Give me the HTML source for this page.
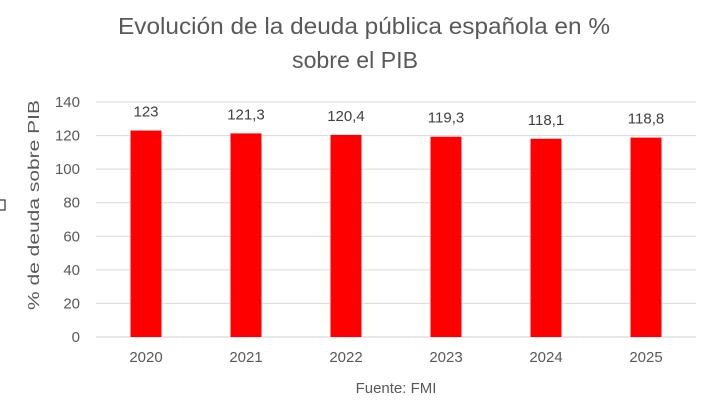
<!DOCTYPE html>
<html><head><meta charset="utf-8"><style>
body{margin:0;background:#fff;font-family:"Liberation Sans",sans-serif;}
svg text{font-family:"Liberation Sans",sans-serif;}
</style></head><body>
<svg width="702" height="412" viewBox="0 0 702 412">
<text x="364" y="34" text-anchor="middle" font-size="23" fill="#595959" textLength="492" lengthAdjust="spacingAndGlyphs">Evolución de la deuda pública española en %</text>
<text x="355" y="68" text-anchor="middle" font-size="23" fill="#595959" textLength="126" lengthAdjust="spacingAndGlyphs">sobre el PIB</text>
<rect x="-3" y="200" width="8" height="10" fill="none" stroke="#333" stroke-width="1.2"/>
<text transform="translate(39,205) rotate(-90)" text-anchor="middle" font-size="16" fill="#595959" textLength="210" lengthAdjust="spacingAndGlyphs">% de deuda sobre PIB</text>
<g id="grid"></g><g id="bars"></g>
<text x="396" y="393" text-anchor="middle" font-size="15" fill="#595959">Fuente: FMI</text>
</svg>
<script>
const categories=["2020","2021","2022","2023","2024","2025"];
const values=[123,121.3,120.4,119.3,118.1,118.8];
const valueLabels=["123","121,3","120,4","119,3","118,1","118,8"];
const yTicks=[0,20,40,60,80,100,120,140];
const NS="http://www.w3.org/2000/svg";
const x0=96,x1=696,yTop=102,yBot=337,yMax=140;
const y=v=>yBot-(v/yMax)*(yBot-yTop);
const band=(x1-x0)/categories.length;
const xc=i=>x0+band*(i+0.5);
function mk(t,a,p){const e=document.createElementNS(NS,t);for(const k in a)e.setAttribute(k,a[k]);p.appendChild(e);return e;}
const g=document.getElementById('grid'),b=document.getElementById('bars');
yTicks.forEach(v=>{
 const l=mk('line',{x1:x0,x2:x1,y1:y(v),y2:y(v),stroke:v===0?'#d0d0d0':'#d9d9d9','stroke-width':1},g);
 
 
 const t=mk('text',{x:80,y:y(v)+5,'text-anchor':'end','font-size':15,fill:'#595959'},g);
 t.textContent=v;
 
 
});
categories.forEach((c,i)=>{
 const w=31;
 const r=mk('rect',{x:xc(i)-w/2,y:y(values[i]),width:w,height:yBot-y(values[i]),fill:'#ff0000'},b);
 
 
 const t=mk('text',{x:xc(i),y:y(values[i])-14,'text-anchor':'middle','font-size':15,fill:'#404040'},b);
 t.textContent=valueLabels[i];
 
 
 const xt=mk('text',{x:xc(i),y:362,'text-anchor':'middle','font-size':15,fill:'#595959'},b);
 xt.textContent=c;
 
 
});
</script>
</body></html>
